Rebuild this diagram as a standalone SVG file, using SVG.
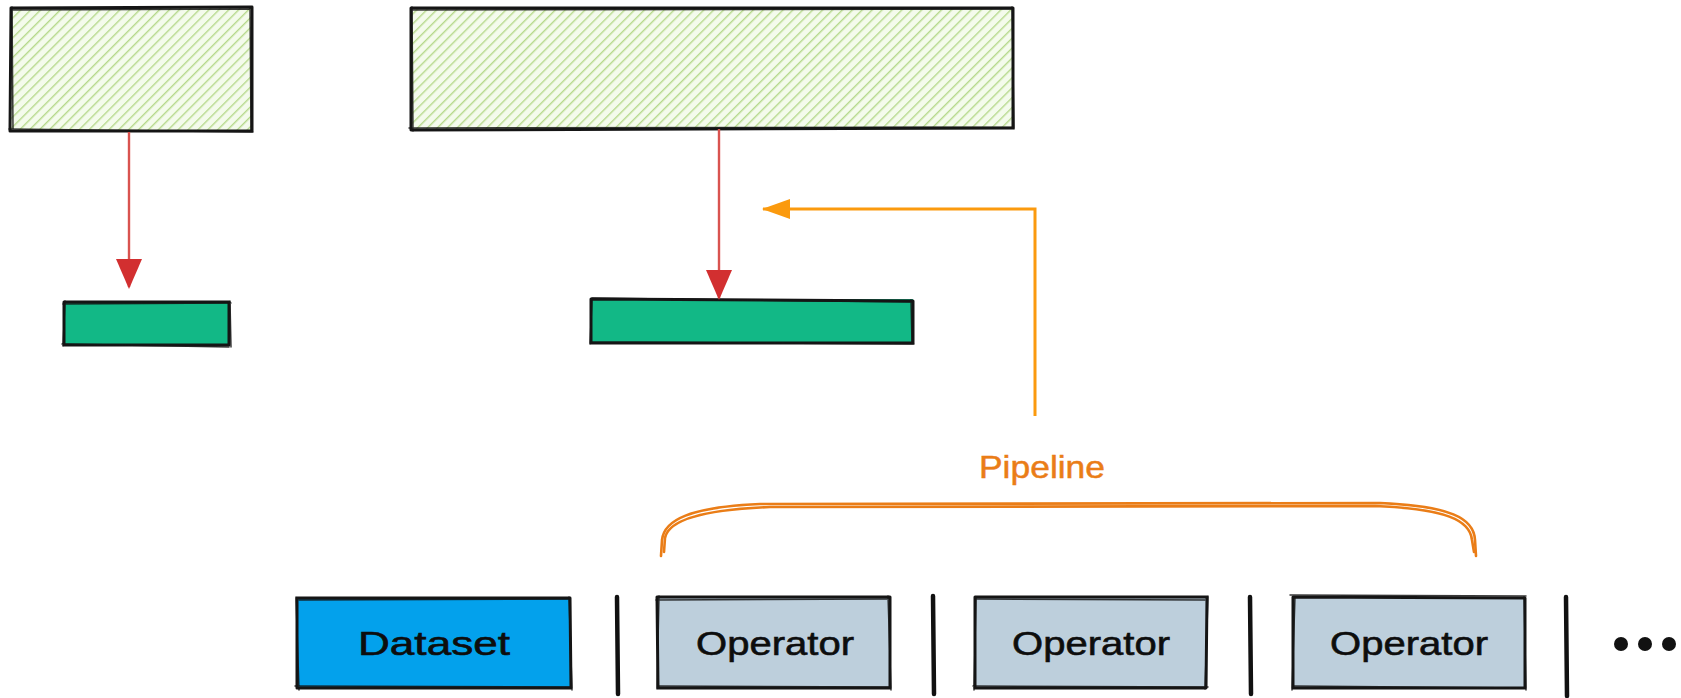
<svg xmlns="http://www.w3.org/2000/svg" width="1681" height="698" viewBox="0 0 1681 698">
  <defs>
    <pattern id="hatch" patternUnits="userSpaceOnUse" width="7" height="7" patternTransform="rotate(45)">
      <rect width="7" height="7" fill="#f4fbec"/>
      <line x1="0" y1="0" x2="0" y2="7" stroke="#b6d98c" stroke-width="2.8"/>
    </pattern>
    <marker id="redHead" viewBox="0 0 30 30" refX="28" refY="15" markerWidth="30" markerHeight="30" markerUnits="userSpaceOnUse" orient="auto">
      <path d="M0,2 L30,15 L0,28 Z" fill="#d22f30"/>
    </marker>
    <marker id="orangeHead" viewBox="0 0 28 22" refX="27" refY="11" markerWidth="28" markerHeight="22" markerUnits="userSpaceOnUse" orient="auto">
      <path d="M0,1 L28,11 L0,21 Z" fill="#fb9a0e"/>
    </marker>
  </defs>
  <style>
    .ink { fill: none; stroke: #151515; stroke-width: 3; stroke-linecap: round; stroke-linejoin: round; }
    .ink2 { fill: none; stroke: #151515; stroke-width: 1.5; stroke-linecap: round; opacity: 0.85; }
    .label { font-family: "Liberation Sans", "Noto Sans", sans-serif; fill: #0d0d0d; stroke: #0d0d0d; stroke-width: 0.6; text-anchor: middle; }
    .red { fill: none; stroke: #d9534f; stroke-width: 2.4; }
    .orange { fill: none; stroke: #fb9a0e; stroke-width: 3; stroke-linejoin: miter; }
    .brace { fill: none; stroke: #ea7d17; stroke-width: 2.6; stroke-linecap: round; }
    .sep { fill: none; stroke: #111; stroke-width: 4.5; stroke-linecap: round; }
  </style>

  <rect width="1681" height="698" fill="#ffffff"/>

  <!-- hatched source blocks -->
  <g id="block-left">
    <rect x="11" y="8" width="241" height="123" fill="url(#hatch)"/>
    <path class="ink" d="M11,8 L252,7 L252,131 L10,131 Z"/>
    <path class="ink2" d="M13,10 L250,9 M250,8 L251,130 M9,129 L253,132 M12,7 L13,130"/>
  </g>
  <g id="block-right">
    <rect x="411" y="8" width="602" height="121" fill="url(#hatch)"/>
    <path class="ink" d="M411,8 L1013,8 L1013,128 L411,130 Z"/>
    <path class="ink2" d="M413,10 L1011,9 M1012,7 L1014,129 M409,128 L1014,127 M412,7 L413,131"/>
  </g>

  <!-- green target bars -->
  <g id="bar-left">
    <rect x="64" y="302" width="166" height="43" fill="#12b886"/>
    <path class="ink" d="M64,302 L229,302 L229,345 L64,345 Z"/>
    <path class="ink2" d="M63,304 L231,303 M230,301 L231,347 M62,344 L229,347 M65,301 L63,346"/>
  </g>
  <g id="bar-right">
    <rect x="591" y="299" width="322" height="44" fill="#12b886"/>
    <path class="ink" d="M591,299 L913,301 L913,343 L591,343 Z"/>
    <path class="ink2" d="M592,298 L912,302 M911,300 L912,344 M590,342 L914,344 M592,300 L590,344"/>
  </g>

  <!-- bottom row -->
  <g id="dataset">
    <rect x="297" y="598" width="273" height="90" fill="#03a1ec"/>
    <path class="ink" d="M297,598 L570,598 L571,688 L297,688 Z"/>
    <path class="ink2" d="M299,600 L568,599 M569,597 L572,690 M295,686 L571,687 M296,597 L299,690"/>
    <text class="label" x="434" y="655" font-size="34" textLength="152" lengthAdjust="spacingAndGlyphs">Dataset</text>
  </g>
  <g id="operator-1">
    <rect x="657" y="598" width="233" height="90" fill="#bdcfdc"/>
    <path class="ink" d="M657,597 L890,597 L890,688 L658,688 Z"/>
    <path class="ink2" d="M656,600 L889,599 M888,596 L891,690 M659,686 L891,687 M659,596 L657,689"/>
    <text class="label" x="775" y="655" font-size="34" textLength="158" lengthAdjust="spacingAndGlyphs">Operator</text>
  </g>
  <g id="operator-2">
    <rect x="975" y="598" width="232" height="90" fill="#bdcfdc"/>
    <path class="ink" d="M975,597 L1207,597 L1206,688 L975,688 Z"/>
    <path class="ink2" d="M977,599 L1205,600 M1208,596 L1205,689 M973,686 L1208,687 M976,598 L974,690"/>
    <text class="label" x="1091" y="655" font-size="34" textLength="158" lengthAdjust="spacingAndGlyphs">Operator</text>
  </g>
  <g id="operator-3">
    <rect x="1293" y="598" width="232" height="90" fill="#bdcfdc"/>
    <path class="ink" d="M1293,597 L1525,598 L1525,688 L1293,688 Z"/>
    <path class="ink2" d="M1290,595 L1526,596 M1524,596 L1526,690 M1294,686 L1526,688 M1295,597 L1292,690"/>
    <text class="label" x="1409" y="655" font-size="34" textLength="158" lengthAdjust="spacingAndGlyphs">Operator</text>
  </g>
  <g id="separators">
    <path class="sep" d="M617,597 L618,694"/>
    <path class="sep" d="M933,596 L934,694"/>
    <path class="sep" d="M1250,597 L1251,694"/>
    <path class="sep" d="M1566,597 L1567,696"/>
  </g>
  <g id="ellipsis" fill="#111">
    <circle cx="1621" cy="644" r="7"/>
    <circle cx="1645" cy="644" r="7"/>
    <circle cx="1669" cy="644" r="7"/>
  </g>

  <!-- pipeline bracket and label -->
  <g id="pipeline">
    <text x="1042" y="478" font-family="Liberation Sans, Noto Sans, sans-serif" font-size="32" fill="#ea7d17" stroke="#ea7d17" stroke-width="0.5" text-anchor="middle" textLength="126" lengthAdjust="spacingAndGlyphs">Pipeline</text>
    <path class="brace" d="M661,556 L662,540 C664,520 690,507 760,504 L1380,503 C1450,506 1474,518 1475,540 L1476,556"/>
    <path class="brace" stroke-width="1.4" d="M664,552 L665,538 C668,522 695,510 770,507 L1375,506 C1446,509 1470,520 1472,540 L1474,552"/>
  </g>

  <!-- connectors -->
  <g id="connectors">
    <path class="red" d="M129,132 L129,287" marker-end="url(#redHead)"/>
    <path class="red" d="M719,129 L719,298" marker-end="url(#redHead)"/>
    <path class="orange" d="M1035,416 L1035,209 L763,209" marker-end="url(#orangeHead)"/>
  </g>
</svg>
